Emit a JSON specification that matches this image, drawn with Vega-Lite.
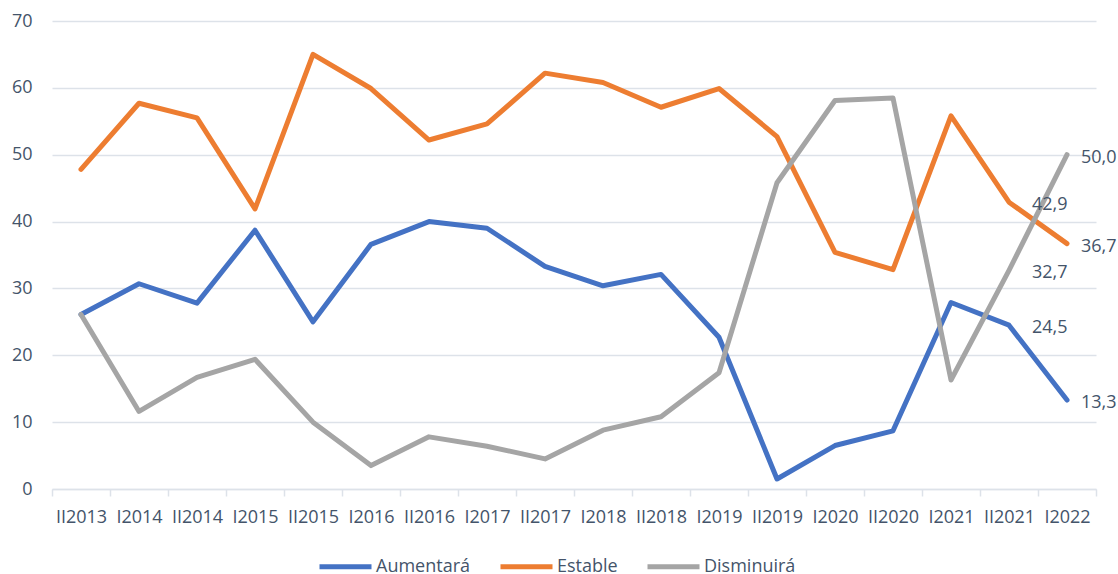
{
  "$schema": "https://vega.github.io/schema/vega-lite/v6.json",
  "width": 1044,
  "height": 468,
  "autosize": {"type": "none"},
  "padding": {"left": 52, "top": 21, "right": 22, "bottom": 85},
  "config": {
    "font": "Open Sans",
    "view": {"stroke": null},
    "locale": {"number": {"decimal": ",", "thousands": ".", "grouping": [3], "currency": ["", " €"]}}
  },
  "data": {
    "values": [
      {"periodo": "II2013", "serie": "Aumentará", "valor": 26.1},
      {"periodo": "I2014", "serie": "Aumentará", "valor": 30.7},
      {"periodo": "II2014", "serie": "Aumentará", "valor": 27.8},
      {"periodo": "I2015", "serie": "Aumentará", "valor": 38.7},
      {"periodo": "II2015", "serie": "Aumentará", "valor": 25.0},
      {"periodo": "I2016", "serie": "Aumentará", "valor": 36.6},
      {"periodo": "II2016", "serie": "Aumentará", "valor": 40.0},
      {"periodo": "I2017", "serie": "Aumentará", "valor": 39.0},
      {"periodo": "II2017", "serie": "Aumentará", "valor": 33.3},
      {"periodo": "I2018", "serie": "Aumentará", "valor": 30.4},
      {"periodo": "II2018", "serie": "Aumentará", "valor": 32.1},
      {"periodo": "I2019", "serie": "Aumentará", "valor": 22.7},
      {"periodo": "II2019", "serie": "Aumentará", "valor": 1.5},
      {"periodo": "I2020", "serie": "Aumentará", "valor": 6.5},
      {"periodo": "II2020", "serie": "Aumentará", "valor": 8.7},
      {"periodo": "I2021", "serie": "Aumentará", "valor": 27.9},
      {"periodo": "II2021", "serie": "Aumentará", "valor": 24.5},
      {"periodo": "I2022", "serie": "Aumentará", "valor": 13.3},
      {"periodo": "II2013", "serie": "Estable", "valor": 47.8},
      {"periodo": "I2014", "serie": "Estable", "valor": 57.7},
      {"periodo": "II2014", "serie": "Estable", "valor": 55.5},
      {"periodo": "I2015", "serie": "Estable", "valor": 41.9},
      {"periodo": "II2015", "serie": "Estable", "valor": 65.0},
      {"periodo": "I2016", "serie": "Estable", "valor": 59.9},
      {"periodo": "II2016", "serie": "Estable", "valor": 52.2},
      {"periodo": "I2017", "serie": "Estable", "valor": 54.6},
      {"periodo": "II2017", "serie": "Estable", "valor": 62.2},
      {"periodo": "I2018", "serie": "Estable", "valor": 60.8},
      {"periodo": "II2018", "serie": "Estable", "valor": 57.1},
      {"periodo": "I2019", "serie": "Estable", "valor": 59.9},
      {"periodo": "II2019", "serie": "Estable", "valor": 52.7},
      {"periodo": "I2020", "serie": "Estable", "valor": 35.4},
      {"periodo": "II2020", "serie": "Estable", "valor": 32.8},
      {"periodo": "I2021", "serie": "Estable", "valor": 55.8},
      {"periodo": "II2021", "serie": "Estable", "valor": 42.9},
      {"periodo": "I2022", "serie": "Estable", "valor": 36.7},
      {"periodo": "II2013", "serie": "Disminuirá", "valor": 26.1},
      {"periodo": "I2014", "serie": "Disminuirá", "valor": 11.6},
      {"periodo": "II2014", "serie": "Disminuirá", "valor": 16.7},
      {"periodo": "I2015", "serie": "Disminuirá", "valor": 19.4},
      {"periodo": "II2015", "serie": "Disminuirá", "valor": 10.0},
      {"periodo": "I2016", "serie": "Disminuirá", "valor": 3.5},
      {"periodo": "II2016", "serie": "Disminuirá", "valor": 7.8},
      {"periodo": "I2017", "serie": "Disminuirá", "valor": 6.4},
      {"periodo": "II2017", "serie": "Disminuirá", "valor": 4.5},
      {"periodo": "I2018", "serie": "Disminuirá", "valor": 8.8},
      {"periodo": "II2018", "serie": "Disminuirá", "valor": 10.8},
      {"periodo": "I2019", "serie": "Disminuirá", "valor": 17.4},
      {"periodo": "II2019", "serie": "Disminuirá", "valor": 45.8},
      {"periodo": "I2020", "serie": "Disminuirá", "valor": 58.1},
      {"periodo": "II2020", "serie": "Disminuirá", "valor": 58.5},
      {"periodo": "I2021", "serie": "Disminuirá", "valor": 16.3},
      {"periodo": "II2021", "serie": "Disminuirá", "valor": 32.7},
      {"periodo": "I2022", "serie": "Disminuirá", "valor": 50.0}
    ]
  },
  "encoding": {
    "x": {
      "field": "periodo",
      "type": "ordinal",
      "sort": ["II2013", "I2014", "II2014", "I2015", "II2015", "I2016", "II2016", "I2017", "II2017", "I2018", "II2018", "I2019", "II2019", "I2020", "II2020", "I2021", "II2021", "I2022"],
      "scale": {"type": "band", "paddingInner": 0, "paddingOuter": 0},
      "axis": {
        "title": null,
        "labelAngle": 0,
        "labelFontSize": 18,
        "labelColor": "#44546a",
        "labelPadding": 12,
        "domainColor": "#dde2e9",
        "domainWidth": 1.5,
        "tickColor": "#dde2e9",
        "tickWidth": 1.5,
        "tickSize": 7,
        "tickBand": "extent",
        "grid": false
      }
    },
    "y": {
      "field": "valor",
      "type": "quantitative",
      "scale": {"domain": [0, 70], "nice": false},
      "axis": {
        "title": null,
        "values": [0, 10, 20, 30, 40, 50, 60, 70],
        "labelFontSize": 18,
        "labelColor": "#44546a",
        "labelPadding": 20,
        "domain": false,
        "ticks": false,
        "gridColor": "#dde2e9",
        "gridWidth": 1.5,
        "format": "d"
      }
    },
    "color": {
      "field": "serie",
      "type": "nominal",
      "scale": {"domain": ["Aumentará", "Estable", "Disminuirá"], "range": ["#4472c4", "#ed7d31", "#a5a5a5"]},
      "legend": {
        "title": null,
        "orient": "none",
        "direction": "horizontal",
        "legendX": 265,
        "legendY": 517,
        "padding": 0,
        "symbolType": "stroke",
        "symbolSize": 2704,
        "symbolStrokeWidth": 5,
        "labelFontSize": 18,
        "labelColor": "#44546a",
        "labelOffset": 2,
        "columnPadding": 19
      }
    }
  },
  "layer": [
    {
      "mark": {"type": "line", "strokeWidth": 5, "strokeCap": "round", "strokeJoin": "round"}
    },
    {
      "transform": [{"filter": "datum.periodo === 'I2022'"}],
      "mark": {"type": "text", "align": "left", "baseline": "middle", "dx": 14, "dy": 3, "fontSize": 18, "color": "#44546a"},
      "encoding": {
        "text": {"field": "valor", "type": "quantitative", "format": ".1f"},
        "color": {"value": "#44546a"}
      }
    },
    {
      "transform": [{"filter": "datum.periodo === 'II2021'"}],
      "mark": {"type": "text", "align": "left", "baseline": "middle", "dx": 23, "dy": 3, "fontSize": 18, "color": "#44546a"},
      "encoding": {
        "text": {"field": "valor", "type": "quantitative", "format": ".1f"},
        "color": {"value": "#44546a"}
      }
    }
  ]
}
